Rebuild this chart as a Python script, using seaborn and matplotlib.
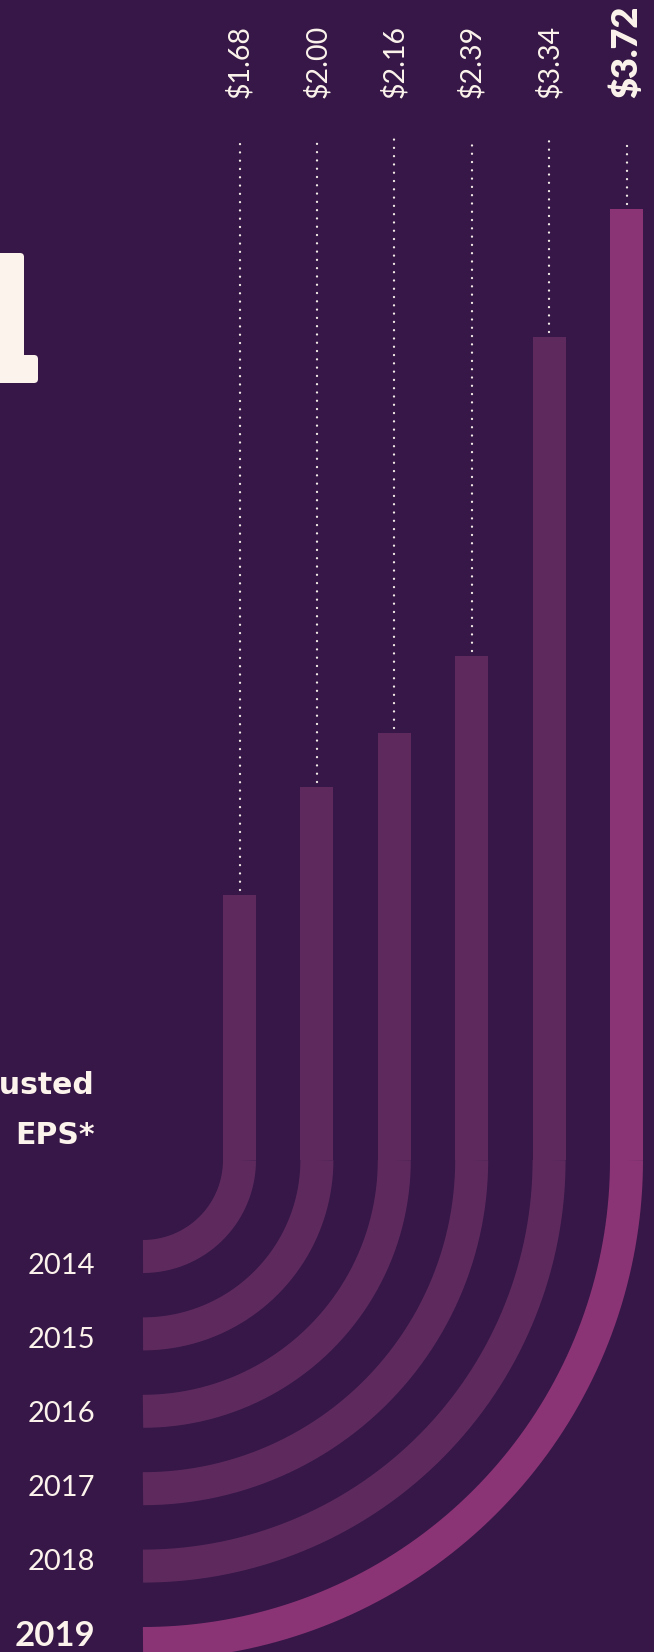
import numpy as np
import pandas as pd
import matplotlib
matplotlib.use("Agg")
import matplotlib.pyplot as plt
from matplotlib.patches import Rectangle, FancyBboxPatch
import seaborn as sns

# ---- data ----
years = ["2014", "2015", "2016", "2017", "2018", "2019"]
eps = [1.68, 2.00, 2.16, 2.39, 3.34, 3.72]
eps_labels = ["$1.68", "$2.00", "$2.16", "$2.39", "$3.34", "$3.72"]
highlight_year = "2019"
title_top = "Adjusted"
title_bottom = "EPS*"

# ---- style / layout (pixels) ----
W, H, DPI = 654, 1652, 100
BG = "#361747"
BAR = "#5e2a5e"
HL = "#8a3475"
CREAM = "#fcf4ec"
DOT = "#f4ece8"

CX, JY = 143.0, 1160.0        # common centre of the quarter arcs
R0, STEP = 96.5, 77.4         # first arc radius and spacing between bars
BAR_W = 33.0
PX_A, PX_B = 1459.0, 336.0    # dollar axis: pixel_y = A - B * value
DOT_TOP = 138.0
LABEL_BASE = 98.0
YEAR_X = 95.0
YEAR_Y0, YEAR_STEP = 1265.5, 74.1

sns.set_theme(style="white")
plt.rcParams["font.family"] = ["Lato", "DejaVu Sans"]

fig = plt.figure(figsize=(W / DPI, H / DPI), dpi=DPI, facecolor=BG)

# pixel overlay axes (arcs, labels, decoration)
axp = fig.add_axes([0, 0, 1, 1])
axp.set_xlim(0, W)
axp.set_ylim(H, 0)
axp.axis("off")

# dollar-scaled bar axes
axb = fig.add_axes([0, 0, 1, 1], facecolor="none")
df = pd.DataFrame({"year": years, "eps": eps})
pal = {y: (HL if y == highlight_year else BAR) for y in years}
sns.barplot(data=df, x="year", y="eps", hue="year", palette=pal, order=years,
            hue_order=years, dodge=False, width=BAR_W / STEP, saturation=1,
            legend=False, linewidth=0, ax=axb)
axb.set_xlim(-(CX + R0) / STEP, (W - (CX + R0)) / STEP)
axb.set_ylim((PX_A - H) / PX_B, PX_A / PX_B)
axb.axis("off")

# straight part of bars only above the arc junction
clip_rect = Rectangle((0, 0), W, JY, transform=axp.transData)
for p in axb.patches:
    p.set_clip_path(clip_rect)

# quarter arcs turning each bar to the left
th = np.linspace(0, np.pi / 2, 400)
for i, y in enumerate(years):
    r = R0 + i * STEP
    axp.plot(CX + r * np.cos(th), JY + r * np.sin(th), color=pal[y],
             lw=BAR_W * 72 / DPI, solid_capstyle="butt", solid_joinstyle="round")

# dotted leader lines
v_top = (PX_A - DOT_TOP) / PX_B
gap = 5 / PX_B
lc = axb.vlines(range(len(years)), [e + gap for e in eps], v_top, colors=DOT,
                lw=1.7, linestyles=[(0, (0.01, 3.5))])
lc.set_capstyle("round")

# value labels
v_lab = (PX_A - LABEL_BASE) / PX_B
for i, (lab, y) in enumerate(zip(eps_labels, years)):
    hl = y == highlight_year
    axb.text(i, v_lab, lab, rotation=90, ha="center", va="bottom", color=CREAM,
             fontsize=26 if hl else 20.5, fontweight="heavy" if hl else "normal",
             parse_math=False)

# year labels
for i, y in enumerate(years):
    hl = y == highlight_year
    axp.text(YEAR_X, YEAR_Y0 + i * YEAR_STEP, y, ha="right", va="center",
             color=CREAM, fontsize=25 if hl else 21,
             fontweight="bold" if hl else "normal")

# title (partly off-canvas, as in the original layout)
title_font = ["DejaVu Sans"]
axp.text(YEAR_X, 1085, title_top, ha="right", va="center", color=CREAM,
         fontsize=21.5, fontweight="bold", family=title_font)
axp.text(YEAR_X, 1136, title_bottom, ha="right", va="center", color=CREAM,
         fontsize=21.5, fontweight="bold", family=title_font)

# fragment of the large headline glyph at the left edge
axp.add_patch(FancyBboxPatch((-30, 253), 54, 130, boxstyle="round,pad=0,rounding_size=4",
                             fc=CREAM, ec="none"))
axp.add_patch(FancyBboxPatch((-30, 355), 68, 28, boxstyle="round,pad=0,rounding_size=4",
                             fc=CREAM, ec="none"))

fig.savefig("out.png", dpi=DPI, facecolor=BG)
